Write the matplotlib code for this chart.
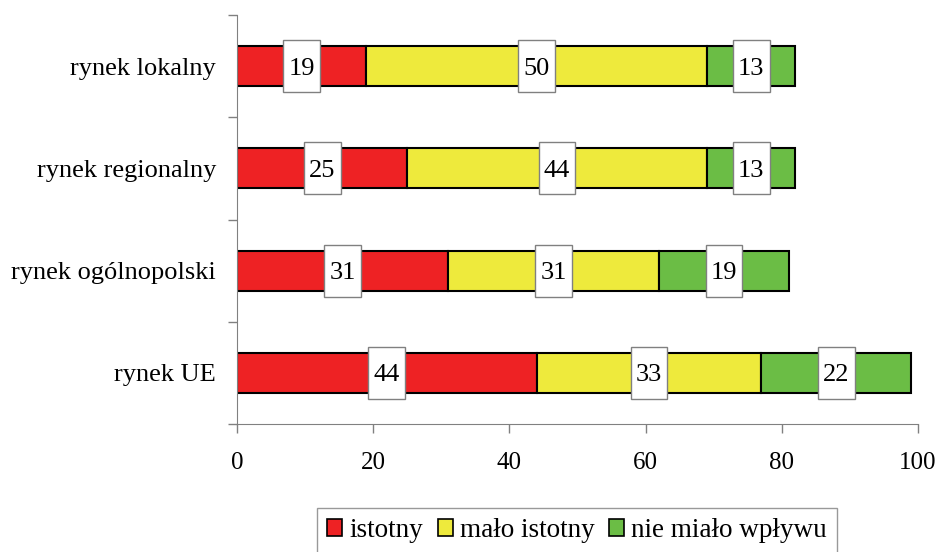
import matplotlib
matplotlib.use("Agg")
import matplotlib.pyplot as plt
from matplotlib.patches import Patch, Rectangle

plt.rcParams['font.family'] = ['Liberation Serif', 'DejaVu Serif']

categories = ["rynek UE", "rynek ogólnopolski", "rynek regionalny", "rynek lokalny"]
istotny = [44, 31, 25, 19]
malo_istotny = [33, 31, 44, 50]
nie_mialo = [22, 19, 13, 13]
series_names = ["istotny", "mało istotny", "nie miało wpływu"]
colors = ["#EE2224", "#EEEA3C", "#6BBD45"]
xticks = [0, 20, 40, 60, 80, 100]

fig = plt.figure(figsize=(9.39, 5.52), dpi=100)
ax = fig.add_axes([237 / 939, 1 - 424 / 552, 681 / 939, 409 / 552])

box_w = 5.4   # in x units
box_h = 0.51  # in y units

ypos = list(range(len(categories)))
lefts = [0] * len(categories)
for vals, col in zip([istotny, malo_istotny, nie_mialo], colors):
    ax.barh(ypos, vals, left=lefts, height=0.39, color=col, edgecolor='black', linewidth=1.5, zorder=2)
    for y, v, l in zip(ypos, vals, lefts):
        cx = l + v / 2
        ax.add_patch(Rectangle((cx - box_w / 2, y - box_h / 2), box_w, box_h, facecolor='white',
                               edgecolor='#808080', linewidth=1, zorder=3))
        ax.text(cx, y, str(v), ha='center', va='center_baseline', fontsize=19, zorder=4)
    lefts = [a + b for a, b in zip(lefts, vals)]

ax.set_xlim(0, 100)
ax.set_ylim(-0.5, 3.5)
ax.set_xticks(xticks)
ax.set_xticklabels([str(t) for t in xticks], fontsize=18)
ax.set_yticks(ypos)
ax.set_yticklabels(categories, fontsize=19)
ax.tick_params(axis='y', which='major', length=0, pad=15)
ax.set_yticks([-0.5, 0.5, 1.5, 2.5, 3.5], minor=True)
ax.tick_params(axis='y', which='minor', length=6.5, width=1, color='#808080', direction='out')
ax.tick_params(axis='x', length=6.5, width=1, color='#808080', direction='out', pad=14)
for s in ['top', 'right']:
    ax.spines[s].set_visible(False)
ax.spines['left'].set_color('#808080')
ax.spines['bottom'].set_color('#808080')

handles = [Patch(facecolor=c, edgecolor='black', linewidth=1.2) for c in colors]
leg = fig.legend(handles, series_names, loc='upper center', bbox_to_anchor=(577 / 939, 1 - 508 / 552), ncol=3,
                 frameon=True, fancybox=False, fontsize=19.5, handlelength=0.55, handleheight=0.55,
                 handletextpad=0.26, columnspacing=0.55, borderpad=0.37, borderaxespad=0)
leg.get_frame().set_edgecolor('#808080')
leg.get_frame().set_linewidth(1)

fig.savefig("out.png", dpi=100)
